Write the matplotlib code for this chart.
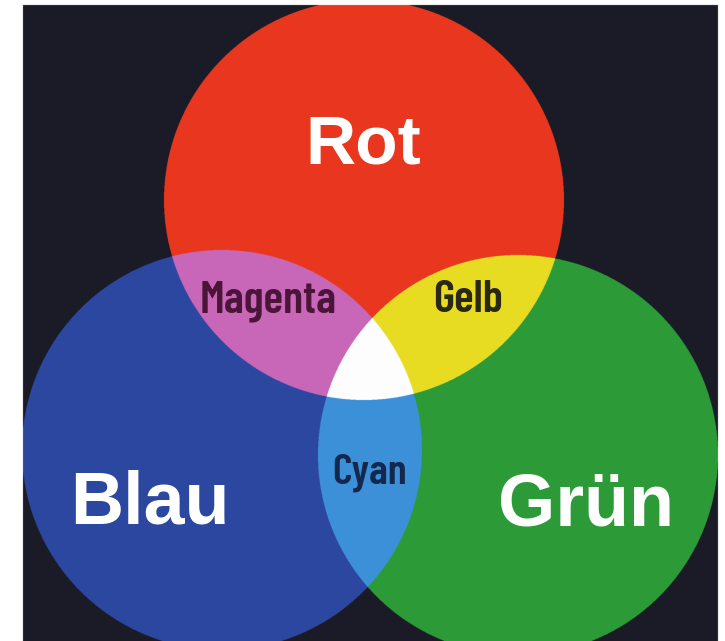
import numpy as np
import matplotlib
matplotlib.use('Agg')
import matplotlib.pyplot as plt

W, H = 725, 641

# dark panel (x0, y0, x1, y1) in pixels
panel = (23, 5, 718, 641)

# primary circles: centre x, centre y, radius
red = (364, 200, 200)
blue = (222, 450, 200)
green = (518, 455, 200)

bg_col = '#1a1b26'
red_col = '#e8381e'
blue_col = '#2d47a0'
green_col = '#2b9a38'
magenta_col = '#c866b8'
yellow_col = '#e8dc24'
cyan_col = '#3c91d8'
white_col = '#fdfdfd'

big_labels = ['Rot', 'Blau', 'Grün']
big_pos = [(363, 163), (150, 523), (586, 525)]
small_labels = ['Magenta', 'Gelb', 'Cyan']
small_pos = [(268, 312), (468, 312), (370, 483)]
small_cols = ['#4a1538', '#2a2810', '#14284e']
small_sizes = [33, 33, 31]


def rgb(c):
    return np.array(matplotlib.colors.to_rgb(c))


ss = 3
yy, xx = np.mgrid[0:H * ss, 0:W * ss]
x = (xx + 0.5) / ss
y = (yy + 0.5) / ss


def inside(c):
    return (x - c[0]) ** 2 + (y - c[1]) ** 2 <= c[2] ** 2


R, B, G = inside(red), inside(blue), inside(green)
img = np.ones((H * ss, W * ss, 3))
in_panel = (x >= panel[0]) & (x <= panel[2]) & (y >= panel[1]) & (y <= panel[3])
img[in_panel] = rgb(bg_col)
regions = [
    (R & ~B & ~G, red_col),
    (B & ~R & ~G, blue_col),
    (G & ~R & ~B, green_col),
    (R & B & ~G, magenta_col),
    (R & G & ~B, yellow_col),
    (B & G & ~R, cyan_col),
    (R & B & G, white_col),
]
for mask, col in regions:
    img[mask & in_panel] = rgb(col)

fig = plt.figure(figsize=(W / 100, H / 100), dpi=100)
ax = fig.add_axes([0, 0, 1, 1])
ax.imshow(img, extent=(0, W, H, 0), interpolation='antialiased')
ax.set_xlim(0, W)
ax.set_ylim(H, 0)
ax.axis('off')

for lab, (tx, ty), fs in zip(big_labels, big_pos, [50, 53, 53]):
    ax.text(tx, ty, lab, ha='center', va='baseline', fontsize=fs,
            fontweight='bold', color='white', family=['Liberation Sans', 'DejaVu Sans'])

for lab, (tx, ty), col, fs in zip(small_labels, small_pos, small_cols, small_sizes):
    ax.text(tx, ty, lab, ha='center', va='baseline', fontsize=fs,
            fontweight='semibold', color=col,
            family=['Barlow Condensed', 'Barlow Semi Condensed', 'Liberation Sans'])

fig.savefig('out.png', dpi=100)
